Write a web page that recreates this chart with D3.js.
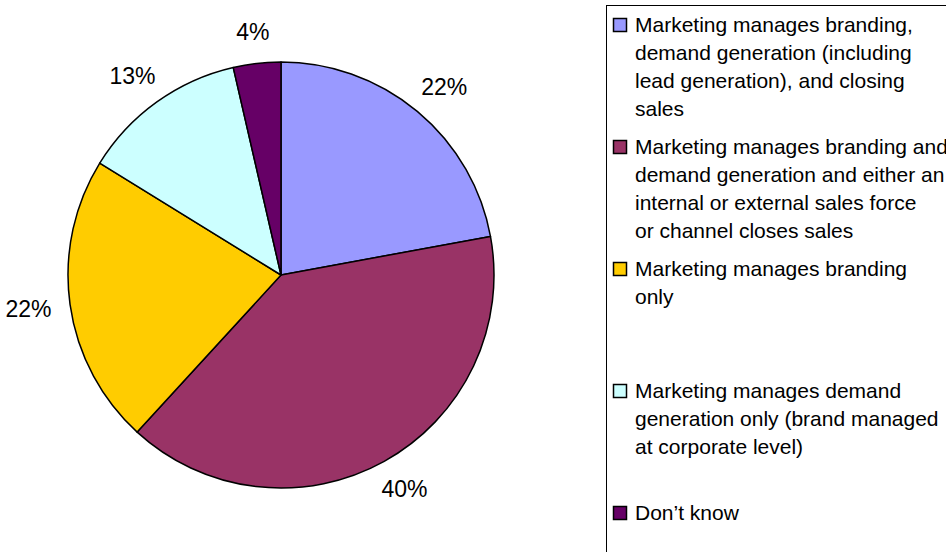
<!DOCTYPE html>
<html>
<head>
<meta charset="utf-8">
<script src="https://cdn.jsdelivr.net/npm/d3@7"></script>
<style>
  body { margin: 0; background: #fff; }
  svg { display: block; font-family: "Liberation Sans", Arial, sans-serif; }
</style>
</head>
<body>
<svg id="chart" width="946" height="552"></svg>
<script>
// data
const categories = [
  "Marketing manages branding, demand generation (including lead generation), and closing sales",
  "Marketing manages branding and demand generation and either an internal or external sales force or channel closes sales",
  "Marketing manages branding only",
  "Marketing manages demand generation only (brand managed at corporate level)",
  "Don’t know"
];
const shares = [22.1, 39.7, 22.0, 12.6, 3.6];
const sliceColors = ["#9999FF", "#993366", "#FFCC00", "#CCFFFF", "#660066"];
// legend wraps the way the original does
const legendLines = [
  ["Marketing manages branding,", "demand generation (including", "lead generation), and closing", "sales"],
  ["Marketing manages branding and", "demand generation and either an", "internal or external sales force", "or channel closes sales"],
  ["Marketing manages branding", "only"],
  ["Marketing manages demand", "generation only (brand managed", "at corporate level)"],
  ["Don’t know"]
];

const svg = d3.select("#chart");
const cx = 281, cy = 275, radius = 213;
const fmt = d3.format(".0%");

const data = categories.map((c, i) => ({ name: c, value: shares[i], color: sliceColors[i], lines: legendLines[i] }));
const total = d3.sum(shares);

const pie = d3.pie().sort(null).value(d => d.value);
const arc = d3.arc().innerRadius(0).outerRadius(radius);
const arcs = pie(data);

const g = svg.append("g").attr("transform", `translate(${cx},${cy})`);

g.selectAll("path")
  .data(arcs)
  .enter()
  .append("path")
  .attr("d", arc)
  .attr("fill", d => d.data.color)
  .attr("stroke", "#000")
  .attr("stroke-width", 1.5)
  .attr("stroke-linejoin", "round");

// percentage labels outside the pie
const labelR = 232;
g.selectAll(".pct")
  .data(arcs)
  .enter()
  .append("text")
  .attr("class", "pct")
  .attr("font-size", 23)
  .attr("fill", "#000")
  .attr("text-anchor", "middle")
  .text(d => fmt(d.data.value / total))
  .each(function(d) {
    const a = (d.startAngle + d.endAngle) / 2;
    const dx = Math.sin(a), dy = -Math.cos(a);
    const bb = this.getBBox();
    const x = dx * labelR + dx * bb.width / 2;
    const y = dy * labelR + dy * bb.height / 2;
    d3.select(this).attr("x", x).attr("y", y + 8);
  });

// legend
const legendX = 606;
const legend = svg.append("g");
legend.append("rect")
  .attr("x", legendX + 0.5)
  .attr("y", 5.5)
  .attr("width", 400)
  .attr("height", 600)
  .attr("fill", "none")
  .attr("stroke", "#000")
  .attr("stroke-width", 1);

const entryY = d3.scaleLinear().domain([0, data.length - 1]).range([25, 513]);

const items = legend.selectAll(".item")
  .data(data)
  .enter()
  .append("g")
  .attr("class", "item")
  .attr("transform", (d, i) => `translate(${legendX},${entryY(i)})`);

items.append("rect")
  .attr("x", 7.5)
  .attr("y", -6.5)
  .attr("width", 13)
  .attr("height", 13)
  .attr("fill", d => d.color)
  .attr("stroke", "#000")
  .attr("stroke-width", 1.5);

items.append("text")
  .attr("x", 29)
  .attr("y", 7)
  .attr("font-size", 21)
  .attr("fill", "#000")
  .selectAll("tspan")
  .data(d => d.lines)
  .enter()
  .append("tspan")
  .attr("x", 29)
  .attr("dy", (d, i) => i === 0 ? 0 : 28)
  .text(d => d);
</script>
</body>
</html>
